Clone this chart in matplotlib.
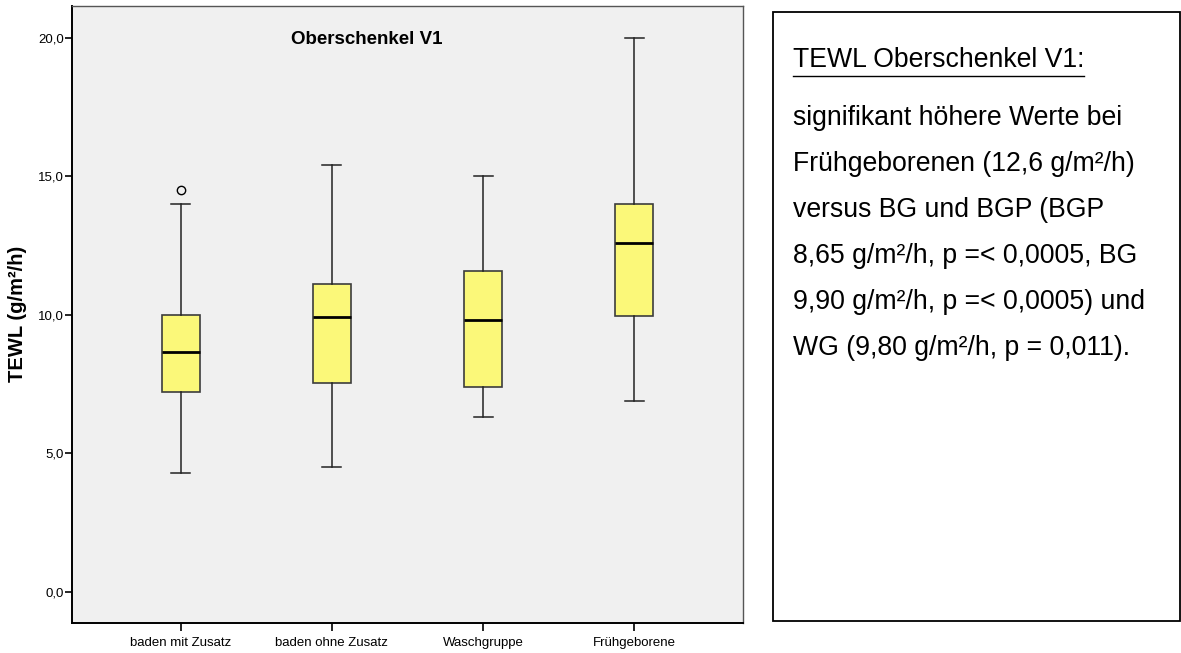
import matplotlib
matplotlib.use("Agg")
import matplotlib.pyplot as plt
from matplotlib.patches import Rectangle
from matplotlib.lines import Line2D

plt.rcParams['font.family'] = ['Liberation Sans', 'DejaVu Sans']

categories = ["baden mit Zusatz", "baden ohne Zusatz", "Waschgruppe", "Frühgeborene"]
medians = [8.65, 9.90, 9.80, 12.60]
q1 = [7.20, 7.55, 7.38, 9.94]
q3 = [10.00, 11.10, 11.58, 14.00]
whisker_low = [4.30, 4.50, 6.30, 6.90]
whisker_high = [14.00, 15.40, 15.00, 20.00]
outliers = [[14.50], [], [], []]

yticks = [0.0, 5.0, 10.0, 15.0, 20.0]
ytick_labels = ["0,0", "5,0", "10,0", "15,0", "20,0"]

title = "Oberschenkel V1"
ylabel = "TEWL (g/m²/h)"
note_title = "TEWL Oberschenkel V1:"
note_lines = [
    "signifikant höhere Werte bei",
    "Frühgeborenen (12,6 g/m²/h)",
    "versus BG und BGP (BGP",
    "8,65 g/m²/h, p =< 0,0005, BG",
    "9,90 g/m²/h, p =< 0,0005) und",
    "WG (9,80 g/m²/h, p = 0,011).",
]

W, H = 1181, 653
fig = plt.figure(figsize=(W / 100, H / 100), dpi=100)
fig.patch.set_facecolor("white")

ax = fig.add_axes([72 / W, 1 - 623 / H, (743 - 72) / W, (623 - 6) / H])
ax.set_facecolor("#F0F0F0")

stats = []
for i, c in enumerate(categories):
    stats.append(dict(label=c, med=medians[i], q1=q1[i], q3=q3[i],
                      whislo=whisker_low[i], whishi=whisker_high[i],
                      fliers=outliers[i]))

ax.bxp(stats, positions=range(1, len(categories) + 1), widths=0.25,
       patch_artist=True, capwidths=0.125,
       boxprops=dict(facecolor="#FBF879", edgecolor="#3C3C3C", linewidth=1.2),
       medianprops=dict(color="black", linewidth=2.0),
       whiskerprops=dict(color="#222222", linewidth=1.1),
       capprops=dict(color="#222222", linewidth=1.1),
       flierprops=dict(marker="o", markerfacecolor="none", markeredgecolor="black",
                       markersize=6, markeredgewidth=1.0))

ax.set_xlim(0.28, 4.72)
ax.set_ylim(-1.13, 21.14)
ax.set_yticks(yticks)
ax.set_yticklabels(ytick_labels)
ax.set_xticks(range(1, len(categories) + 1))
ax.set_xticklabels(categories)
ax.tick_params(axis="both", labelsize=9.5, colors="black", direction="out", width=1.2)
ax.tick_params(axis="y", length=5, pad=1)
ax.tick_params(axis="x", length=6, pad=4)

for s in ["left", "bottom"]:
    ax.spines[s].set_color("black")
    ax.spines[s].set_linewidth(1.4)
for s in ["top", "right"]:
    ax.spines[s].set_color("#555555")
    ax.spines[s].set_linewidth(1.0)

ax.text(0.44, 0.946, title, transform=ax.transAxes, ha="center", va="center",
        fontsize=13.5, fontweight="bold")
fig.text(18 / W, 1 - 314 / H, ylabel, rotation=90, ha="center", va="center",
         fontsize=14.5, fontweight="bold")

# note box
fig.patches.append(Rectangle((773 / W, 1 - 621 / H), (1180 - 773) / W, (621 - 12) / H,
                             transform=fig.transFigure, facecolor="white",
                             edgecolor="black", linewidth=1.3))

tx = 793 / W
t = fig.text(tx, 1 - 60 / H, note_title, ha="left", va="center", fontsize=19.2)
line_ys = [118, 164, 210, 256, 302, 348]
for yy, s in zip(line_ys, note_lines):
    fig.text(tx, 1 - yy / H, s, ha="left", va="center", fontsize=19.2)

fig.canvas.draw()
bb = t.get_window_extent()
uy = bb.y0 - 3
fig.lines.append(Line2D([bb.x0 / W, bb.x1 / W], [uy / H, uy / H],
                        transform=fig.transFigure, color="black", linewidth=1.0))

fig.savefig("out.png", dpi=100)
